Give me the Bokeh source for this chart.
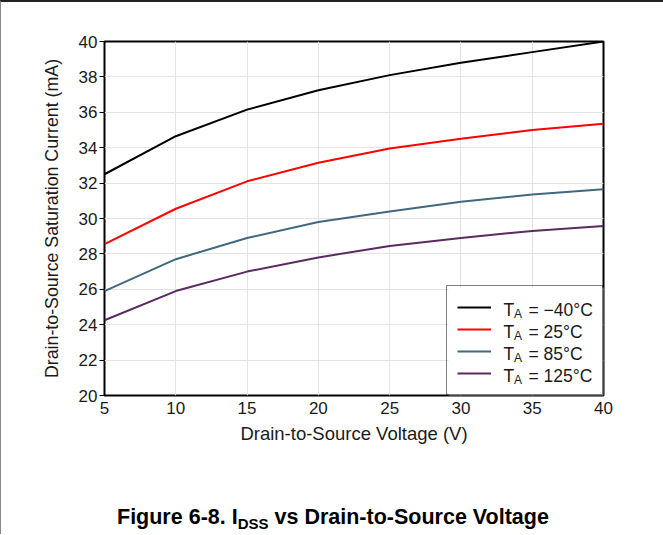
from bokeh.plotting import figure
from bokeh.models import Range1d, Legend, LegendItem, Label, FixedTicker, BoxAnnotation, Div
from bokeh.layouts import column
from bokeh.core.properties import value
from bokeh.embed import file_html
from bokeh.resources import INLINE

# ---- data ----
vds = [5, 10, 15, 20, 25, 30, 35, 40]
i_m40 = [32.5, 34.65, 36.15, 37.25, 38.1, 38.8, 39.4, 40.0]
i_25 = [28.55, 30.55, 32.1, 33.15, 33.95, 34.5, 35.0, 35.35]
i_85 = [25.9, 27.7, 28.9, 29.8, 30.4, 30.95, 31.35, 31.65]
i_125 = [24.25, 25.9, 27.0, 27.8, 28.45, 28.9, 29.3, 29.57]
temps = ["\u221240\u00b0C", "25\u00b0C", "85\u00b0C", "125\u00b0C"]
colors = ["#000000", "#ff0000", "#41697e", "#5a2a60"]
x_ticks = [5, 10, 15, 20, 25, 30, 35, 40]
y_ticks = [20, 22, 24, 26, 28, 30, 32, 34, 36, 38, 40]

FONT = "Liberation Sans"

p = figure(width=654, height=470, output_backend="svg", toolbar_location=None,
           x_range=Range1d(5, 40), y_range=Range1d(20, 40),
           min_border_left=103, min_border_right=52,
           min_border_top=39, min_border_bottom=77,
           background_fill_color="white", border_fill_color="white")

p.outline_line_color = "black"
p.outline_line_width = 2
p.grid.grid_line_color = "#e4e4e4"
p.grid.grid_line_width = 1

p.xaxis.ticker = FixedTicker(ticks=x_ticks)
p.yaxis.ticker = FixedTicker(ticks=y_ticks)
p.axis.axis_line_color = None
p.axis.minor_tick_line_color = None
p.axis.major_label_text_font = FONT
p.axis.major_label_text_font_size = "17px"
p.axis.major_label_text_color = "#1a1a1a"
p.axis.axis_label_text_font = FONT
p.axis.axis_label_text_font_style = "normal"
p.axis.axis_label_text_color = "#1a1a1a"

p.xaxis.axis_label = "Drain-to-Source Voltage (V)"
p.xaxis.axis_label_text_font_size = "18.5px"
p.xaxis.major_tick_out = 0
p.xaxis.major_tick_in = 0
p.xaxis.major_label_standoff = 6
p.xaxis.axis_label_standoff = 6

p.yaxis.axis_label = "Drain-to-Source Saturation Current (mA)"
p.yaxis.axis_label_text_font_size = "17.8px"
p.yaxis.major_tick_out = 5
p.yaxis.major_tick_in = 0
p.yaxis.major_tick_line_color = "black"
p.yaxis.major_label_standoff = 2
p.yaxis.axis_label_standoff = 14

series = [i_m40, i_25, i_85, i_125]
renderers = []
for ys, c in zip(series, colors):
    r = p.line(vds, ys, line_color=c, line_width=2)
    renderers.append(r)

# white backing for the legend box (hides grid lines)
p.add_layout(BoxAnnotation(left=29.13, bottom=20, top=26.1, right=40,
                           fill_color="white", fill_alpha=1.0, line_color=None,
                           level="glyph"))

legend = Legend(items=[LegendItem(label=value(" "), renderers=[r]) for r in renderers],
                location="bottom_right", margin=0, padding=10, spacing=0,
                glyph_height=22, glyph_width=34, label_height=22, label_width=91,
                label_standoff=10, border_line_color="black", border_line_width=1.7,
                background_fill_alpha=0.0, label_text_font_size="1px")
p.add_layout(legend)

# legend texts with subscript A
for i, t in enumerate(temps):
    base = 86 - 22 * i
    p.add_layout(Label(x=399, y=base, x_units="screen", y_units="screen", text="T",
                       text_font=FONT, text_font_size="17.5px", text_color="#1a1a1a",
                       text_baseline="alphabetic", text_align="left"))
    p.add_layout(Label(x=409.5, y=base - 4.5, x_units="screen", y_units="screen", text="A",
                       text_font=FONT, text_font_size="12px", text_color="#1a1a1a",
                       text_baseline="alphabetic", text_align="left"))
    p.add_layout(Label(x=424, y=base, x_units="screen", y_units="screen", text="= " + t,
                       text_font=FONT, text_font_size="17.5px", text_color="#1a1a1a",
                       text_baseline="alphabetic", text_align="left"))

caption = Div(
    text=('<div style="padding-top:28px; padding-left:111px; white-space:nowrap; '
          'font-family:\'Liberation Sans\'; font-size:21.5px; font-weight:bold; color:#000; '
          'line-height:24px;">Figure 6-8. I<span style="font-size:15px; position:relative; '
          'top:5px;">DSS</span> vs Drain-to-Source Voltage</div>'),
    width=654, height=52)

layout = column(p, caption, spacing=0,
                styles={"border-top": "2px solid #222", "border-left": "1px solid #888"})

open("out.html", "w").write(file_html(layout, INLINE))
